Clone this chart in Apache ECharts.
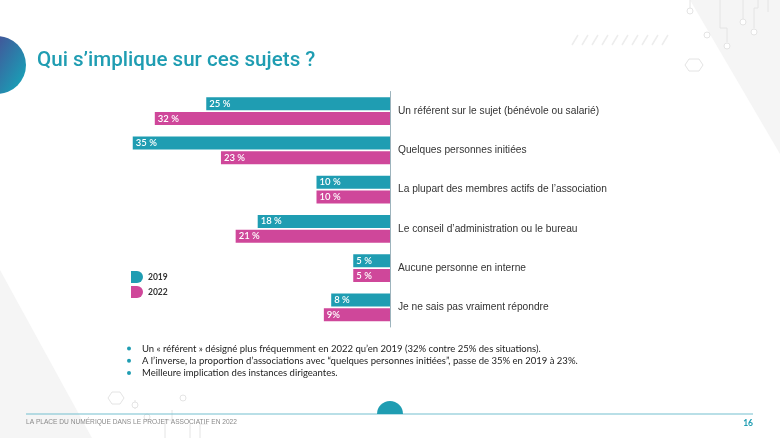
<!DOCTYPE html>
<html>
<head>
<meta charset="utf-8">
<script src="https://cdn.jsdelivr.net/npm/echarts@6/dist/echarts.min.js"></script>
<style>
html,body{margin:0;padding:0;background:#fff;}
#chart{width:780px;height:438px;}
</style>
</head>
<body>
<div id="chart"></div>
<script>
const categories = [
  "Un référent sur le sujet (bénévole ou salarié)",
  "Quelques personnes initiées",
  "La plupart des membres actifs de l’association",
  "Le conseil d’administration ou le bureau",
  "Aucune personne en interne",
  "Je ne sais pas vraiment répondre"
];
const values2019 = [25, 35, 10, 18, 5, 8];
const values2022 = [32, 23, 10, 21, 5, 9];
const labels2019 = ["25 %", "35 %", "10 %", "18 %", "5 %", "8 %"];
const labels2022 = ["32 %", "23 %", "10 %", "21 %", "5 %", "9%"];
const seriesNames = ["2019", "2022"];
const titleText = "Qui s’implique sur ces sujets ?";
const bullets = [
  "Un « référent » désigné plus fréquemment en 2022 qu’en 2019 (32% contre 25% des situations).",
  "A l’inverse, la proportion d’associations avec “quelques personnes initiées”, passe de 35% en 2019 à 23%.",
  "Meilleure implication des instances dirigeantes."
];
const footerText = "LA PLACE DU NUMÉRIQUE DANS LE PROJET ASSOCIATIF EN 2022";
const pageNumber = "16";

const TEAL = '#1f9db2';
const PINK = '#cf479a';
const LIGHT = '#e4e4e4';

const chart = echarts.init(document.getElementById('chart'), null, {renderer: 'canvas'});

const dIcon = 'path://M0,0 L6,0 A6,6 0 0 1 6,12 L0,12 Z';

const deco = [];
// background triangles
deco.push({type:'polygon', z:-10, shape:{points:[[690,0],[780,0],[780,154]]}, style:{fill:'#f5f5f5'}});
deco.push({type:'polygon', z:-10, shape:{points:[[0,270],[92,438],[0,438]]}, style:{fill:'#f5f5f5'}});
// circuit lines top right
const tr = [
  [[690,0],[690,10]], [[720,0],[720,28],[727,28],[727,42]], [[743,0],[743,20]],
  [[758,0],[758,8],[754,8],[754,28]], [[768,0],[768,12]]
];
tr.forEach(p => deco.push({type:'polyline', z:-9, shape:{points:p}, style:{stroke:LIGHT, lineWidth:1, fill:null}}));
[[690,11],[707,35],[727,46],[743,22],[754,32]].forEach(c => deco.push({type:'circle', z:-9, shape:{cx:c[0],cy:c[1],r:3}, style:{stroke:LIGHT, fill:'#fff', lineWidth:1}}));
deco.push({type:'polygon', z:-9, shape:{points:[[689,59],[699,59],[703,65],[699,71],[689,71],[685,65]]}, style:{stroke:LIGHT, fill:null, lineWidth:1}});
for (let i = 0; i < 10; i++) {
  deco.push({type:'line', z:-9, shape:{x1:572+i*10,y1:45,x2:578+i*10,y2:35}, style:{stroke:'#ededed', lineWidth:1.5}});
}
// circuit lines bottom
const bl = [
  [[135,409],[135,400]], [[165,438],[165,420],[172,420],[172,410]], [[190,438],[190,424]],
  [[200,438],[200,424],[208,424]]
];
bl.forEach(p => deco.push({type:'polyline', z:-9, shape:{points:p}, style:{stroke:LIGHT, lineWidth:1, fill:null}}));
[[135,405],[183,398],[147,417]].forEach(c => deco.push({type:'circle', z:-9, shape:{cx:c[0],cy:c[1],r:3}, style:{stroke:LIGHT, fill:'#fff', lineWidth:1}}));
deco.push({type:'polygon', z:-9, shape:{points:[[112,392],[120,392],[124,398],[120,404],[112,404],[108,398]]}, style:{stroke:LIGHT, fill:null, lineWidth:1}});
// left gradient circle
deco.push({type:'circle', shape:{cx:-3, cy:65, r:29}, style:{fill: new echarts.graphic.LinearGradient(0,0.2,1,0.8,[{offset:0,color:'#55358c'},{offset:1,color:'#17a3b8'}])}});
// title
deco.push({type:'text', left:37, top:50, style:{text:titleText, fill:'#1f9db2', font:'500 20.6px Roboto, "Open Sans", sans-serif'}});
// bullets
bullets.forEach((b, i) => {
  const y = 348.5 + i * 12.2;
  deco.push({type:'circle', shape:{cx:129, cy:y, r:2}, style:{fill:TEAL}});
  deco.push({type:'text', x:142, y:y, style:{text:b, fill:'#222', font:'9.5px Lato, "Open Sans", sans-serif', verticalAlign:'middle'}});
});
// footer
deco.push({type:'line', shape:{x1:26,y1:414,x2:753,y2:414}, style:{stroke:'#74c0cf', lineWidth:1.2}});
deco.push({type:'sector', shape:{cx:390, cy:414, r:13, startAngle:Math.PI, endAngle:2*Math.PI}, style:{fill:TEAL}});
deco.push({type:'text', x:26, y:422, style:{text:footerText, fill:'#8a8a8a', font:'6.6px "Liberation Sans Narrow", "Liberation Sans", sans-serif', verticalAlign:'middle'}});
deco.push({type:'text', x:753, y:423, style:{text:pageNumber, fill:TEAL, font:'bold 8.5px Lato, sans-serif', align:'right', verticalAlign:'middle'}});

const option = {
  animation: false,
  backgroundColor: '#fff',
  grid: {left: 96, right: 390, top: 91.5, bottom: 111},
  xAxis: {type:'value', min:0, max:40, inverse:true, show:false},
  yAxis: {
    type:'category', data:categories, inverse:true, position:'right',
    axisLine:{show:true, onZero:false, lineStyle:{color:'#9db4bd', width:1}},
    axisTick:{show:false},
    axisLabel:{margin:8, color:'#333', fontSize:10.2, fontFamily:'"Liberation Sans", Arial, sans-serif', align:'left'}
  },
  legend: {
    orient:'vertical', left:131, top:271, padding:0, itemWidth:12, itemHeight:12, itemGap:3,
    data:[{name:seriesNames[0], icon:dIcon},{name:seriesNames[1], icon:dIcon}],
    textStyle:{color:'#333', fontSize:8.5, fontFamily:'Lato, sans-serif', fontWeight:'bold'}
  },
  series: [
    {
      name: seriesNames[0], type:'bar', data: values2019, barWidth:13, barGap:'15%',
      itemStyle:{color:TEAL},
      label:{show:true, position:'insideLeft', distance:3, color:'#fff', fontSize:9.5, fontWeight:600, fontFamily:'Lato, sans-serif',
        formatter: p => labels2019[p.dataIndex]}
    },
    {
      name: seriesNames[1], type:'bar', data: values2022, barWidth:13, barGap:'15%',
      itemStyle:{color:PINK},
      label:{show:true, position:'insideLeft', distance:3, color:'#fff', fontSize:9.5, fontWeight:600, fontFamily:'Lato, sans-serif',
        formatter: p => labels2022[p.dataIndex]}
    }
  ],
  graphic: deco
};
chart.setOption(option);
</script>
</body>
</html>
